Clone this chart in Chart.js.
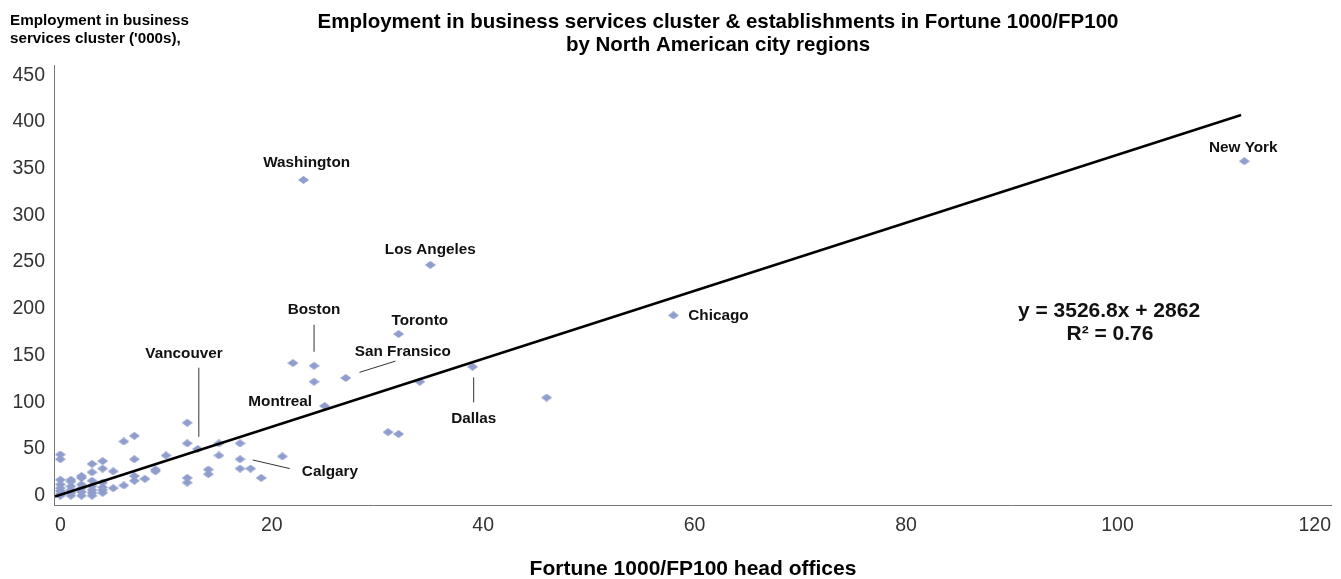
<!DOCTYPE html>
<html>
<head>
<meta charset="utf-8">
<script src="https://cdn.jsdelivr.net/npm/chart.js@4.4.1/dist/chart.umd.min.js"></script>
<style>
  html, body { margin: 0; padding: 0; background: #fff; }
  canvas { display: block; }
</style>
</head>
<body>
<canvas id="scatterChart" width="1341" height="579"></canvas>
<script>
// --- data ---
// head offices (x) and employment in '000s (y), one entry per city region
const headOffices = [
  0, 0, 0, 0, 0, 0, 0, 0,
  1, 1, 1, 1, 1, 1,
  2, 2, 2, 2, 2, 2,
  3, 3, 3, 3, 3, 3, 3,
  4, 4, 4, 4, 4, 4,
  5, 5, 6, 6, 7, 7, 7, 7, 8, 9, 9, 10,
  12, 12, 12, 12, 13, 14, 14, 15, 15, 17, 17, 17, 18, 19, 21,
  22, 23, 24, 24, 25, 27, 31, 32, 32, 34, 35, 39, 46, 58, 112
];
const employment = [
  0, 2, 5, 8, 12, 17, 39, 44,
  0, 3, 6, 10, 15, 17,
  0, 4, 8, 12, 19, 21,
  0, 3, 6, 10, 16, 25, 34,
  3, 6, 9, 14, 29, 37,
  8, 26, 11, 58, 16, 21, 39, 64, 18, 26, 28, 43,
  14, 19, 56, 78, 50, 23, 28, 43, 56, 29, 39, 56, 29, 19, 42,
  142, 338, 122, 139, 96, 126, 68, 66, 173, 122, 247, 138, 105, 193, 358
];

// linear trend line as drawn in the picture
const trendX = [-0.5, 111.7];
const trendY = [-0.9, 407.5];

const xTicks = [0, 20, 40, 60, 80, 100, 120];
const yTicks = [0, 50, 100, 150, 200, 250, 300, 350, 400, 450];

// city labels
const cityNames = ['Washington', 'New York', 'Los Angeles', 'Chicago', 'Toronto', 'Boston',
  'San Fransico', 'Vancouver', 'Montreal', 'Dallas', 'Calgary'];
const cityLabelX = [23.3, 111.9, 35.0, 59.4, 34.0, 24.0, 32.4, 11.7, 20.8, 39.1, 25.5];
const cityLabelY = [356, 372, 263, 193, 187, 199, 154, 152, 101, 82, 26];
const cityAlign = ['center', 'center', 'center', 'left', 'center', 'center', 'center', 'center', 'center', 'center', 'center'];

// leader lines [x1, y1, x2, y2]
const leaders = [
  [24.0, 183, 24.0, 154],     // Boston
  [28.3, 132, 31.7, 144],     // San Fransico
  [13.1, 137, 13.1, 63],      // Vancouver
  [39.1, 126.6, 39.1, 99.9],  // Dallas
  [18.2, 38.2, 21.7, 29]      // Calgary
];

const FONT = '"Liberation Sans", Arial, sans-serif';
const TICK_SIZE = 19.5;

// --- drawing ---
function makeDiamond(w, h, color) {
  const c = document.createElement('canvas');
  c.width = w; c.height = h;
  const g = c.getContext('2d');
  g.fillStyle = color;
  g.beginPath();
  g.moveTo(w / 2, 0);
  g.lineTo(w, h / 2);
  g.lineTo(w / 2, h);
  g.lineTo(0, h / 2);
  g.closePath();
  g.fill();
  return c;
}

const textPlugin = {
  id: 'texts',
  afterDraw(chart) {
    const ctx = chart.ctx;
    const sx = chart.scales.x, sy = chart.scales.y;
    ctx.save();

    // last x label sits flush with the axis end, like the original
    ctx.fillStyle = '#333';
    ctx.font = TICK_SIZE + 'px ' + FONT;
    ctx.textAlign = 'right';
    ctx.textBaseline = 'top';
    ctx.fillText(String(xTicks[xTicks.length - 1]), sx.right, sx.top + 11);

    // leader lines
    ctx.strokeStyle = '#333';
    ctx.lineWidth = 1;
    leaders.forEach(l => {
      ctx.beginPath();
      ctx.moveTo(sx.getPixelForValue(l[0]), sy.getPixelForValue(l[1]));
      ctx.lineTo(sx.getPixelForValue(l[2]), sy.getPixelForValue(l[3]));
      ctx.stroke();
    });

    // city names
    ctx.fillStyle = '#111';
    ctx.font = 'bold 15.3px ' + FONT;
    ctx.textBaseline = 'middle';
    cityNames.forEach((name, i) => {
      ctx.textAlign = cityAlign[i];
      ctx.fillText(name, sx.getPixelForValue(cityLabelX[i]), sy.getPixelForValue(cityLabelY[i]));
    });

    // equation
    ctx.font = 'bold 21px ' + FONT;
    ctx.textAlign = 'center';
    ctx.fillText('y = 3526.8x + 2862', 1109, 311);
    ctx.fillText('R² = 0.76', 1110, 334);

    // titles
    ctx.fillStyle = '#000';
    ctx.font = 'bold 20.5px ' + FONT;
    ctx.fillText('Employment in business services cluster & establishments in Fortune 1000/FP100', 718, 22);
    ctx.fillText('by North American city regions', 718, 45);

    ctx.font = 'bold 21px ' + FONT;
    ctx.fillText('Fortune 1000/FP100 head offices', 693, 569);

    ctx.textAlign = 'left';
    ctx.font = 'bold 15.2px ' + FONT;
    ctx.fillText('Employment in business', 10, 21);
    ctx.fillText("services cluster ('000s),", 10, 39);

    ctx.restore();
  }
};

const ctx = document.getElementById('scatterChart').getContext('2d');
new Chart(ctx, {
  type: 'scatter',
  data: {
    datasets: [
      {
        type: 'line',
        data: trendX.map((x, i) => ({ x: x, y: trendY[i] })),
        borderColor: '#000',
        borderWidth: 2.5,
        pointRadius: 0,
        fill: false
      },
      {
        data: headOffices.map((x, i) => ({ x: x, y: employment[i] })),
        pointStyle: makeDiamond(11, 8, '#8f9ecc'),
        pointRadius: 5,
        pointHoverRadius: 5
      }
    ]
  },
  options: {
    responsive: false,
    animation: false,
    layout: { padding: { top: 65, right: 10, left: 0, bottom: 0 } },
    plugins: { legend: { display: false }, tooltip: { enabled: false } },
    scales: {
      x: {
        type: 'linear',
        min: -0.6,
        max: 120.2,
        grid: { display: false, drawTicks: false },
        border: { display: true, color: '#777', width: 1 },
        ticks: {
          color: '#333', padding: 9, font: { size: TICK_SIZE, family: FONT },
          callback: v => (v === xTicks[xTicks.length - 1] ? '' : String(v))
        },
        afterBuildTicks: s => { s.ticks = xTicks.map(v => ({ value: v })); },
        afterFit: s => { s.height = 74; s.paddingLeft = 0; s.paddingRight = 0; }
      },
      y: {
        type: 'linear',
        min: -10,
        max: 461,
        grid: { display: false, drawTicks: false },
        border: { display: true, color: '#777', width: 1 },
        ticks: { color: '#333', padding: 9, font: { size: TICK_SIZE, family: FONT } },
        afterBuildTicks: s => { s.ticks = yTicks.map(v => ({ value: v })); },
        afterFit: s => { s.width = 54; s.paddingTop = 0; s.paddingBottom = 0; }
      }
    }
  },
  plugins: [textPlugin]
});
</script>
</body>
</html>
